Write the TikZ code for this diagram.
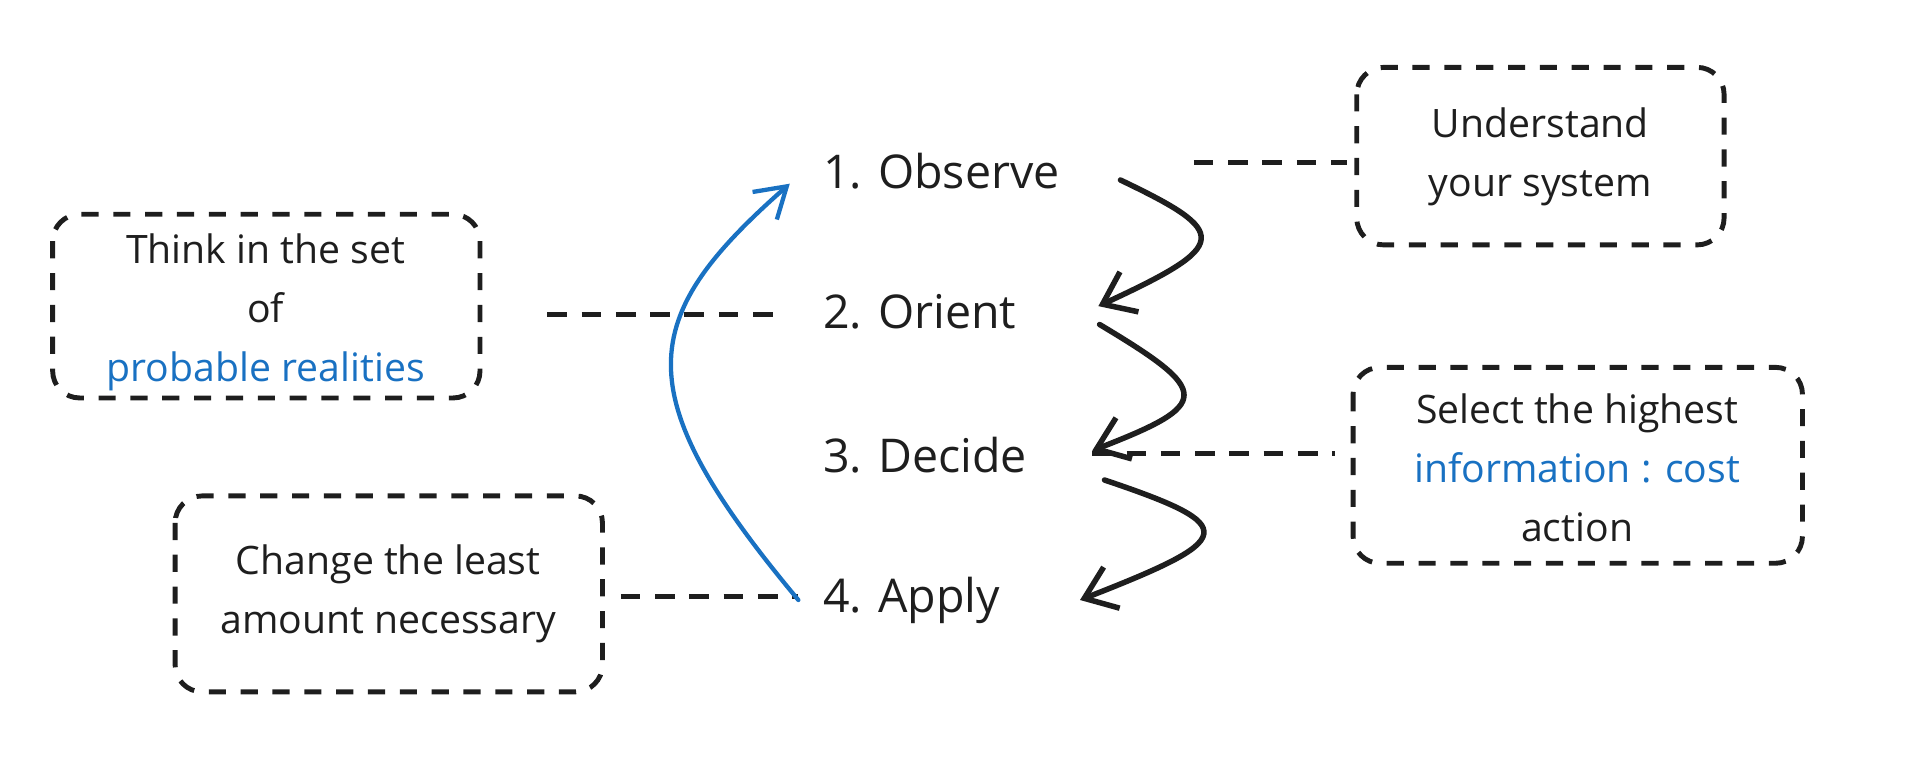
\documentclass[tikz,border=0pt]{standalone}
\usepackage{fontspec}
\setmainfont{Open Sans}
\usetikzlibrary{arrows.meta}
\definecolor{ink}{HTML}{1E1E1E}
\definecolor{bl}{HTML}{1971C2}
\begin{document}
\begin{tikzpicture}[x=1pt,y=-1pt,
  stepnode/.style={anchor=west,font=\fontsize{38}{44}\selectfont,text=ink,inner sep=0pt},
  dbox/.style={draw=ink,line width=4pt,dash pattern=on 14pt off 12pt,rounded corners=22pt},
  btext/.style={font=\fontsize{32}{48}\selectfont,text=ink,align=center,inner sep=0pt},
  dline/.style={draw=ink,line width=4pt,dash pattern=on 16pt off 12pt},
  arr/.style={draw=ink,line width=4.5pt,line cap=round,-{Straight Barb[length=24pt,width=36pt,line width=4.5pt]}},
  barr/.style={draw=bl,line width=3.5pt,line cap=round,-{Straight Barb[length=24pt,width=30pt,line width=3.5pt]}}]
\useasboundingbox (0,0) rectangle (1568,630);
\node[stepnode] (o) at (672,140) {1. Observe};
\node[stepnode] (r) at (672,255) {2. Orient};
\node[stepnode] (d) at (672,372) {3. Decide};
\node[stepnode] (a) at (672,490) {4. Apply};
\draw[dbox] (1108,55) rectangle (1408,200);
\node[btext] (u) at (1258,128) {Understand\\your system};
\draw[dbox] (43,175) rectangle (392,325);
\node[btext] (t) at (217,255) {Think in the set\\of\\\textcolor{bl}{probable realities}};
\draw[dbox] (1105,300) rectangle (1472,460);
\node[btext] (s) at (1288,382) {Select the highest\\\textcolor{bl}{information : cost}\\action};
\draw[dbox] (143,405) rectangle (492,565);
\node[btext] (c) at (317,485) {Change the least\\amount necessary};
\coordinate (c1) at (975,133); \coordinate (c2) at (1100,133);
\draw[dline] (c1) -- (c2);
\coordinate (c3) at (447,257); \coordinate (c4) at (635,257);
\draw[dline] (c3) -- (c4);
\coordinate (c5) at (892,370); \coordinate (c6) at (1090,370);
\draw[dline] (c5) -- (c6);
\coordinate (c7) at (507,487); \coordinate (c8) at (652,487);
\draw[dline] (c7) -- (c8);
\coordinate (a1) at (915,147); \coordinate (a2) at (897,250);
\draw[arr] (a1) .. controls (1005,190) and (1005,200) .. (a2);
\coordinate (a3) at (898,265); \coordinate (a4) at (892,368);
\draw[arr] (a3) .. controls (990,320) and (990,330) .. (a4);
\coordinate (a5) at (902,392); \coordinate (a6) at (882,490);
\draw[arr] (a5) .. controls (1015,430) and (1010,440) .. (a6);
\coordinate (b1) at (652,490); \coordinate (b2) at (645,150);
\draw[barr] (b1) .. controls (510,320) and (520,260) .. (b2);
\end{tikzpicture}
\end{document}
